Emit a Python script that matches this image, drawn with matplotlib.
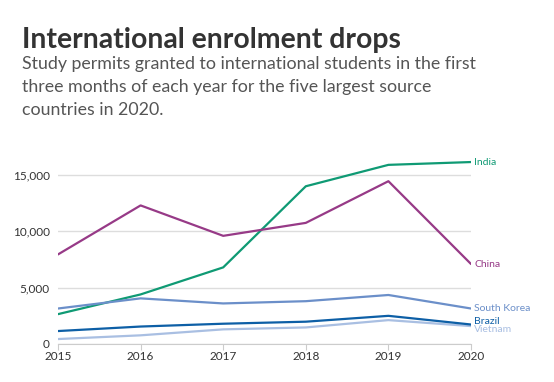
import matplotlib.pyplot as plt

# Дані
years = [2015, 2016, 2017, 2018, 2019, 2020]
india = [2650, 4400, 6800, 14000, 15900, 16150]
china = [7950, 12300, 9600, 10750, 14450, 7100]
south_korea = [3150, 4050, 3600, 3800, 4350, 3150]
brazil = [1150, 1550, 1800, 1980, 2500, 1730]
vietnam = [440, 770, 1300, 1470, 2120, 1590]

series = [
    ("India", india, "#0f9a74"),
    ("China", china, "#973a87"),
    ("South Korea", south_korea, "#6b8fc9"),
    ("Vietnam", vietnam, "#a9bfe2"),
    ("Brazil", brazil, "#0d5fa6"),
]

plt.rcParams['font.family'] = ['Lato', 'DejaVu Sans']

fig = plt.figure(figsize=(5.54, 3.82), dpi=100)
fig.patch.set_facecolor("white")

# Заголовок та підзаголовок
fig.text(22 / 554, 1 - 48 / 382, "International enrolment drops",
         fontsize=20.4, fontweight="bold", color="#333333")
fig.text(22 / 554, 1 - 56 / 382,
         "Study permits granted to international students in the first\n"
         "three months of each year for the five largest source\n"
         "countries in 2020.",
         fontsize=12.8, color="#555555", va="top", linespacing=1.55)

ymax = 17000
top_px = 344 - ymax * 169 / 15000
ax = fig.add_axes([58 / 554, 38 / 382, (471 - 58) / 554, (344 - top_px) / 382])

for name, vals, color in series:
    ax.plot(years, vals, color=color, linewidth=1.6, solid_capstyle="round")

label_offsets = {"Brazil": 280, "Vietnam": -280}
for name, vals, color in series:
    ax.text(years[-1] + 0.04, vals[-1] + label_offsets.get(name, 0), name,
            color=color, fontsize=7.5, va="center", ha="left", clip_on=False)

ax.set_xlim(2015, 2020)
ax.set_ylim(0, ymax)
ax.set_xticks(years)
ax.set_yticks([0, 5000, 10000, 15000])
ax.set_yticklabels(["0", "5,000", "10,000", "15,000"])

ax.grid(axis="y", color="#dddddd", linewidth=1)
ax.set_axisbelow(True)
for side in ["top", "right", "left"]:
    ax.spines[side].set_visible(False)
ax.spines["bottom"].set_color("#cccccc")
ax.tick_params(axis="y", length=0, labelsize=8.5, labelcolor="#333333", pad=6)
ax.tick_params(axis="x", length=4, color="#cccccc", labelsize=8.5,
               labelcolor="#333333", pad=1)

plt.savefig("out.png", dpi=100)
